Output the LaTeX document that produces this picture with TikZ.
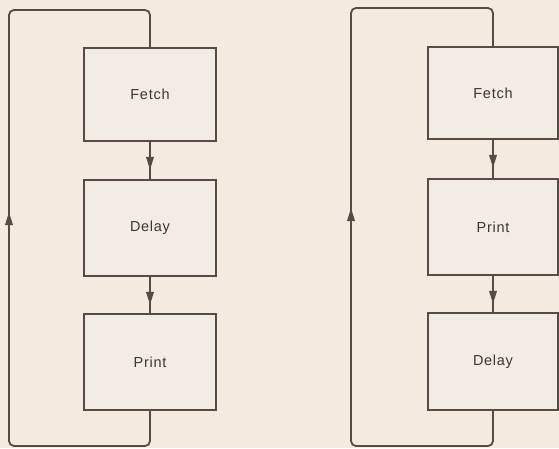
\documentclass[tikz,border=0pt]{standalone}
\usepackage{fontspec}
\setmainfont{Liberation Sans}[LetterSpace=5]
\usetikzlibrary{arrows.meta,decorations.markings}
\definecolor{paper}{HTML}{F4EADF}
\definecolor{boxfill}{HTML}{F2ECE3}
\definecolor{ink}{HTML}{574B45}
\definecolor{txt}{HTML}{3E3532}
\tikzset{
  stepbox/.style={draw=ink, line width=1.8pt, fill=boxfill, text=txt,
    font=\fontsize{14.5}{16}\selectfont, inner sep=0pt},
  link/.style={draw=ink, line width=1.8pt},
  tip/.style={-{Triangle[length=13pt,width=7.5pt]}},
  midarrow/.style={link, postaction={decorate}, decoration={markings,
    mark=at position 28pt with {\arrow{Triangle[length=13pt,width=7.5pt]}}}},
  loop/.style={link, rounded corners=5pt}
}
\begin{document}
\begin{tikzpicture}[x=1pt,y=-1pt]
\fill[paper] (0,0) rectangle (559,448);
\useasboundingbox (0,0) rectangle (559,448);
% left diagram
\node[stepbox, minimum width=132pt, minimum height=93pt] (f1) at (150,94.5) {Fetch};
\node[stepbox, minimum width=132pt, minimum height=96pt] (d1) at (150,228) {Delay};
\node[stepbox, minimum width=132pt, minimum height=96pt] (p1) at (150,362) {Print};
\draw[midarrow] (f1.south) -- (d1.north);
\draw[midarrow] (d1.south) -- (p1.north);
\coordinate (l1a) at (9,300);
\coordinate (l1b) at (9,212);
\draw[loop] (p1.south) |- (9,446) |- (150,10) -- (f1.north);
\draw[link, tip] (l1a) -- (l1b);
% right diagram
\node[stepbox, minimum width=130pt, minimum height=92pt] (f2) at (493,93) {Fetch};
\node[stepbox, minimum width=130pt, minimum height=96pt] (p2) at (493,227) {Print};
\node[stepbox, minimum width=130pt, minimum height=97pt] (d2) at (493,361.5) {Delay};
\draw[midarrow] (f2.south) -- (p2.north);
\draw[midarrow] (p2.south) -- (d2.north);
\coordinate (l2a) at (351,300);
\coordinate (l2b) at (351,208);
\draw[loop] (d2.south) |- (351,446) |- (493,8) -- (f2.north);
\draw[link, tip] (l2a) -- (l2b);
\end{tikzpicture}
\end{document}
